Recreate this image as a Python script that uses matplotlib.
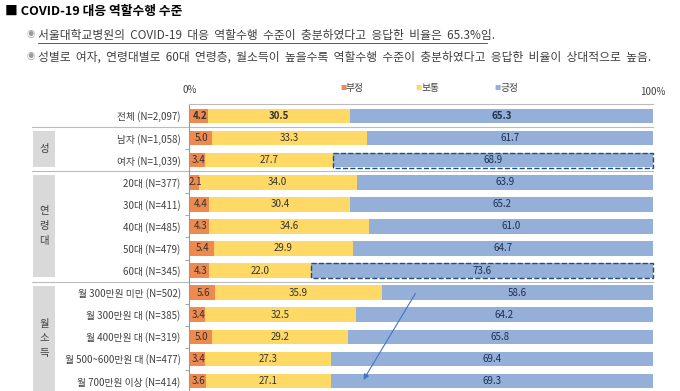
import numpy as np
import matplotlib.pyplot as plt
from matplotlib.patches import Rectangle
from matplotlib.transforms import blended_transform_factory

plt.rcParams['font.family'] = ['Noto Sans CJK KR', 'DejaVu Sans']

# data
labels = ['전체 (N=2,097)', '남자 (N=1,058)', '여자 (N=1,039)',
          '20대 (N=377)', '30대 (N=411)', '40대 (N=485)', '50대 (N=479)', '60대 (N=345)',
          '월 300만원 미만 (N=502)', '월 300만원 대 (N=385)', '월 400만원 대 (N=319)',
          '월 500~600만원 대 (N=477)', '월 700만원 이상 (N=414)']
negative = [4.2, 5.0, 3.4, 2.1, 4.4, 4.3, 5.4, 4.3, 5.6, 3.4, 5.0, 3.4, 3.6]
neutral = [30.5, 33.3, 27.7, 34.0, 30.4, 34.6, 29.9, 22.0, 35.9, 32.5, 29.2, 27.3, 27.1]
positive = [65.3, 61.7, 68.9, 63.9, 65.2, 61.0, 64.7, 73.6, 58.6, 64.2, 65.8, 69.4, 69.3]
series_names = ['부정', '보통', '긍정']
groups = ['성', '연\n령\n대', '월\n소\n득']
highlight_rows = [2, 7]

c_neg = '#EE8A4E'
c_neu = '#FFD966'
c_pos = '#94B0D8'

fig = plt.figure(figsize=(6.8, 3.91), dpi=100)
W, H = 680, 391
ax = fig.add_axes([189 / W, 0, (653 - 189) / W, (391 - 104) / H])

y = np.arange(len(labels))
neg = np.array(negative)
neu = np.array(neutral)
pos = np.array(positive)
h = 0.66
ax.barh(y, neg, height=h, color=c_neg)
ax.barh(y, neu, left=neg, height=h, color=c_neu)
ax.barh(y, pos, left=neg + neu, height=h, color=c_pos)

for i in range(len(labels)):
    w = 'bold' if i == 0 else 'normal'
    ax.text(neg[i] / 2 + 0.3, i, f'{neg[i]:.1f}', ha='center', va='center', fontsize=7,
            color='#333333', fontweight=w)
    ax.text(neg[i] + neu[i] / 2, i, f'{neu[i]:.1f}', ha='center', va='center', fontsize=7,
            color='#333333', fontweight=w)
    ax.text(neg[i] + neu[i] + pos[i] / 2, i, f'{pos[i]:.1f}', ha='center', va='center',
            fontsize=7, color='#1F2F4F', fontweight=w)

# dashed highlight boxes
for r in highlight_rows:
    x0 = neg[r] + neu[r]
    ax.add_patch(Rectangle((x0, r - 0.34), 100 - x0, 0.68, fill=False, ls='--',
                           lw=1.0, ec='#1F4E79', clip_on=False, zorder=5))

# arrow
ax.annotate('', xy=(37.3, 12.05), xytext=(49.1, 7.93),
            arrowprops=dict(arrowstyle='-|>', color='#4472C4', lw=0.8, mutation_scale=8))

ax.set_xlim(0, 100)
ax.set_ylim(12.45, -0.54)
ax.set_yticks(y)
ax.set_yticklabels(labels, fontsize=7, color='#404040')
ax.tick_params(axis='y', length=0, pad=6)
ax.set_yticks(np.arange(0.5, 12.5, 1), minor=True)
ax.tick_params(axis='y', which='minor', length=3, color='#999999')
ax.set_xticks([])
for s in ['right', 'bottom']:
    ax.spines[s].set_visible(False)
ax.spines['left'].set_color('#999999')
ax.spines['top'].set_color('#BBBBBB')

# separators and group boxes
tr = blended_transform_factory(ax.transAxes, ax.transData)
x_sep = (32 - 189) / 464
for yy in [0.5, 2.5, 7.5]:
    ax.plot([x_sep, 1], [yy, yy], transform=tr, color='#BBBBBB', lw=0.8, clip_on=False)
bx0 = (33 - 189) / 464
bw = 22 / 464
spans = [(0.68, 2.31), (2.67, 7.29), (7.7, 12.6)]
for g, (a, b) in zip(groups, spans):
    ax.add_patch(Rectangle((bx0, a), bw, b - a, transform=tr, color='#D9D9D9',
                           clip_on=False, lw=0))
    ax.text(bx0 + bw / 2, (a + min(b, 12.45)) / 2, g, transform=tr, ha='center',
            va='center', fontsize=7.5, color='#404040', linespacing=1.6)

# axis end labels
fig.text(190 / W, 1 - 90 / H, '0%', ha='center', va='center', fontsize=7, color='#404040')
fig.text(653 / W, 1 - 92 / H, '100%', ha='center', va='center', fontsize=7, color='#404040')

# legend
for name, col, xp in zip(series_names, [c_neg, c_neu, c_pos], [340, 415, 494]):
    fig.text(xp / W, 1 - 88 / H, '■', ha='left', va='center', fontsize=4.5, color=col)
    fig.text((xp + 6) / W, 1 - 88 / H, name, ha='left', va='center', fontsize=7,
             color='#404040')

# title and bullets
fig.text(5 / W, 1 - 11 / H, '■ COVID-19 대응 역할수행 수준', ha='left', va='center',
         fontsize=9.2, fontweight='bold', color='black')
b1 = '서울대학교병원의  COVID-19  대응  역할수행  수준이  충분하였다고  응답한  비율은  65.3%임.'
b2 = '성별로  여자,  연령대별로  60대  연령층,  월소득이  높을수록  역할수행  수준이  충분하였다고  응답한  비율이  상대적으로  높음.'
for yp, txt in [(35, b1), (57, b2)]:
    fig.text(31 / W, 1 - yp / H, '◉', ha='center', va='center', fontsize=6, color='#999999')
    fig.text(38 / W, 1 - yp / H, txt, ha='left', va='center', fontsize=8.5, color='#404040')
fig.add_artist(plt.Line2D([38 / W, 487 / W], [1 - 43 / H, 1 - 43 / H], color='#404040',
                          lw=0.6))

fig.savefig('out.png', dpi=100)
